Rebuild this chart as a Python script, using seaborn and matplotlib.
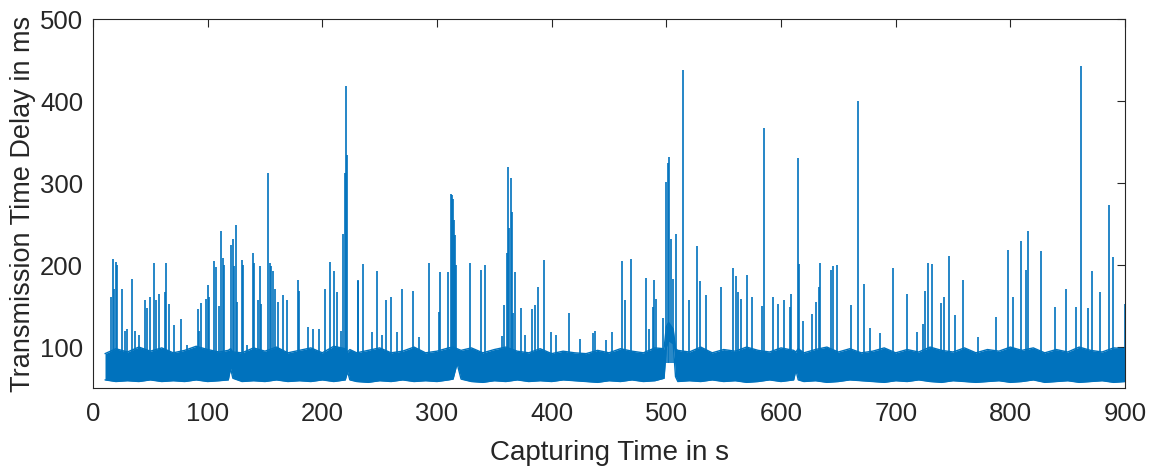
import matplotlib
matplotlib.use("Agg")
import matplotlib.pyplot as plt
import pandas as pd
import seaborn as sns

# spikes: time (s) and peak delay (ms)
spike_time = [
    15.7, 17.1, 18.6, 20.0, 20.9, 25.0, 27.5, 29.5, 33.7, 36.5, 40.0, 45.6, 47.5, 50.0,
    53.4, 55.0, 57.2, 62.7, 63.6, 65.9, 70.9, 77.2, 82.0, 91.2, 92.3, 94.1, 98.8,
    100.4, 101.5, 105.7, 107.5, 110.0, 111.9, 113.2, 114.3, 120.3, 121.7, 122.6, 124.6,
    125.5, 129.6, 130.7, 134.0, 139.2, 140.0, 143.5, 145.5, 146.8, 152.2, 154.5, 155.3,
    156.9, 159.1, 161.2, 165.3, 169.6, 178.7, 179.3, 187.1, 191.5, 197.5, 202.2, 206.5,
    210.3, 212.9, 216.0, 218.4, 219.6, 221.0, 221.6, 230.7, 231.5, 235.9, 243.0, 248.1,
    252.0, 255.9, 260.3, 265.0, 269.9, 279.4, 284.6, 293.4, 301.8, 302.7, 310.0, 312.6,
    313.5, 314.3, 315.2, 316.0, 317.0, 328.5, 338.1, 341.9, 356.4, 358.5, 360.8, 361.9,
    363.0, 364.5, 365.3, 366.6, 368.3, 373.6, 377.0, 383.2, 385.5, 388.4, 393.3, 399.0,
    404.0, 415.4, 425.0, 436.0, 437.6, 447.7, 452.3, 461.0, 464.2, 469.4, 482.2, 485.0,
    488.3, 489.1, 491.2, 496.7, 499.3, 501.4, 502.5, 504.2, 505.5, 508.4, 514.7, 520.0,
    526.4, 529.0, 534.8, 547.3, 558.0, 560.4, 562.4, 564.7, 570.5, 574.3, 583.6, 585.0,
    592.9, 597.5, 603.0, 607.7, 609.1, 614.7, 615.6, 618.8, 626.6, 630.9, 633.0, 633.8,
    643.7, 645.2, 649.0, 660.6, 666.7, 672.5, 678.0, 685.9, 697.7, 710.0, 718.6, 723.8,
    725.9, 728.5, 731.4, 739.5, 741.8, 746.8, 752.0, 758.7, 772.0, 787.2, 798.0, 802.3,
    809.6, 813.7, 815.4, 826.4, 838.6, 848.5, 857.2, 861.6, 867.7, 871.2, 877.8, 886.3,
    889.5, 900.0,
]
spike_value = [
    161, 208, 171, 204, 200, 171, 120, 122, 183, 120, 115, 157, 148, 161,
    203, 157, 165, 167, 203, 153, 127, 134, 103, 147, 120, 154, 159,
    176, 161, 205, 198, 150, 241, 209, 200, 224, 232, 199, 249,
    155, 206, 200, 102, 215, 202, 157, 199, 152, 312, 202, 199,
    193, 171, 155, 163, 157, 182, 169, 124, 122, 122, 171, 204,
    193, 167, 120, 238, 312, 419, 334, 180, 182, 201, 118, 193,
    115, 157, 161, 118, 171, 168, 112, 203, 143, 191, 191, 287,
    285, 281, 255, 237, 200, 203, 194, 200, 113, 151, 215, 320,
    245, 306, 265, 141, 191, 148, 115, 147, 151, 173, 206, 118,
    115, 141, 110, 117, 120, 109, 118, 205, 157, 208, 184, 122,
    149, 182, 159, 136, 301, 324, 332, 232, 183, 238, 438, 157,
    223, 180, 164, 173, 197, 187, 167, 159, 188, 161, 150, 367,
    161, 153, 157, 149, 165, 331, 201, 132, 140, 155, 173, 203,
    194, 199, 200, 151, 400, 177, 123, 117, 197, 165, 118, 128,
    168, 202, 201, 154, 161, 211, 139, 182, 112, 137, 219, 161,
    230, 194, 242, 217, 149, 171, 149, 443, 148, 193, 167, 273,
    210, 152,
]

# dense baseline band: knot times with lower / upper edge of the solid blue
band_time = [
    10.5, 20, 30, 40, 50, 60, 70, 80, 90, 100, 110, 118, 120, 122, 130, 140, 150,
    160, 170, 180, 190, 200, 210, 220, 222, 224, 230, 240, 250, 260, 270, 280, 290,
    300, 310, 314, 317.5, 321, 330, 340, 350, 360, 370, 380, 390, 400, 410, 420, 430,
    440, 450, 460, 470, 480, 490, 498, 500, 502, 506, 508, 510, 520, 530, 540, 550,
    560, 570, 580, 590, 600, 611, 613, 615, 620, 630, 640, 650, 660, 670, 680, 690,
    700, 710, 720, 730, 740, 750, 760, 770, 780, 790, 800, 810, 820, 830, 840, 850,
    860, 870, 880, 890, 900,
]
band_low = [
    60, 58, 59, 58, 60, 58, 59, 58, 60, 58, 59, 60, 74, 62, 58, 59, 58,
    60, 58, 59, 58, 60, 58, 60, 70, 60, 58, 57, 59, 58, 60, 58, 59,
    58, 60, 61, 80, 61, 58, 57, 59, 58, 60, 58, 59, 58, 60, 59, 58,
    57, 59, 58, 60, 58, 59, 62, 100, 108, 104, 64, 58, 59, 58, 60, 58,
    59, 57, 58, 60, 58, 60, 72, 60, 58, 59, 57, 58, 60, 59, 58, 57,
    59, 58, 60, 58, 57, 59, 58, 57, 58, 59, 57, 58, 60, 57, 58, 59,
    57, 58, 59, 57, 58,
]
band_high = [
    92, 98, 94, 100, 95, 99, 93, 96, 101, 97, 94, 96, 98, 94, 93, 99, 95,
    100, 93, 96, 99, 93, 101, 98, 94, 97, 93, 96, 99, 93, 95, 100, 93,
    95, 99, 100, 98, 96, 99, 93, 97, 100, 95, 93, 98, 92, 95, 93, 92,
    96, 93, 98, 95, 93, 99, 98, 125, 130, 122, 98, 96, 94, 100, 93, 97,
    95, 100, 96, 94, 99, 96, 94, 98, 93, 97, 100, 94, 98, 93, 95, 99,
    93, 97, 94, 100, 96, 94, 99, 93, 97, 95, 100, 96, 99, 93, 97, 94,
    100, 96, 94, 99, 98,
]

blue = "#0072BD"
dark = "#262626"

sns.set_style("white")
plt.rcParams["font.family"] = ["Liberation Sans", "DejaVu Sans"]

df_band = pd.DataFrame({"t": band_time, "low": band_low, "high": band_high})
df_spikes = pd.DataFrame({"t": spike_time, "v": spike_value})

fig = plt.figure(figsize=(11.52, 4.67), dpi=100)
ax = fig.add_axes([0.0807, 0.169, 0.8959, 0.790])

ax.fill_between(df_band["t"], df_band["low"], df_band["high"], color=blue, linewidth=0)
sns.lineplot(data=df_band, x="t", y="low", ax=ax, color=blue, linewidth=1.0, estimator=None)
sns.lineplot(data=df_band, x="t", y="high", ax=ax, color=blue, linewidth=1.0, estimator=None)
ax.vlines(df_spikes["t"], 80, df_spikes["v"], color=blue, linewidth=1.2)

ax.set_xlim(0, 900)
ax.set_ylim(50, 500)
ax.set_xticks(range(0, 901, 100))
ax.set_yticks(range(100, 501, 100))

ax.set_xlabel("Capturing Time in s", fontsize=20, color=dark, labelpad=10)
ax.set_ylabel("Transmission Time Delay in ms", fontsize=19.5, color=dark, labelpad=3)

ax.tick_params(axis="both", direction="in", top=True, right=True, length=6, width=0.8,
               colors=dark, labelsize=18.5, pad=7)
ax.tick_params(axis="x", pad=10)
for s in ax.spines.values():
    s.set_visible(True)
    s.set_color(dark)
    s.set_linewidth(0.8)

fig.savefig("out.png", dpi=100)
